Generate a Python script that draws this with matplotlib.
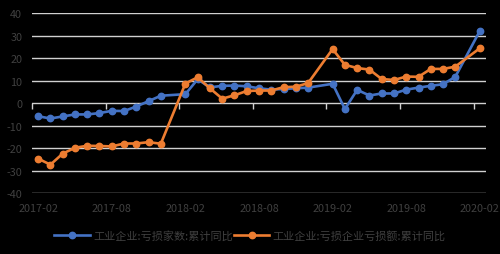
import matplotlib
matplotlib.use("Agg")
import matplotlib.pyplot as plt
from matplotlib.lines import Line2D

plt.rcParams['font.family'] = ['Noto Sans CJK SC', 'DejaVu Sans']

# month index relative to 2017-02 (January values missing)
months = [0, 1, 2, 3, 4, 5, 6, 7, 8, 9, 10,
          12, 13, 14, 15, 16, 17, 18, 19, 20, 21, 22,
          24, 25, 26, 27, 28, 29, 30, 31, 32, 33, 34,
          36]
loss_count = [-5.8, -6.8, -5.9, -5.0, -5.0, -4.4, -3.4, -3.5, -1.5, 0.9, 3.3,
              4.0, 10.6, 7.0, 7.7, 7.8, 7.5, 6.6, 6.0, 6.3, 6.6, 6.9,
              8.6, -2.6, 5.9, 3.4, 4.3, 4.3, 6.0, 6.9, 7.7, 8.4, 11.7,
              32.1]
loss_amount = [-24.6, -27.3, -22.4, -19.8, -18.9, -19.0, -19.2, -17.9, -17.9, -17.3, -18.0,
               8.7, 11.5, 6.6, 2.0, 3.5, 5.4, 5.6, 5.6, 7.1, 7.3, 8.9,
               24.0, 17.0, 15.6, 14.9, 10.7, 10.3, 11.8, 11.7, 15.2, 15.2, 16.2,
               24.4]
tick_pos = [0, 6, 12, 18, 24, 30, 36]
tick_labels = ['2017-02', '2017-08', '2018-02', '2018-08', '2019-02', '2019-08', '2020-02']
yticks = [-40, -30, -20, -10, 0, 10, 20, 30, 40]
series_names = ['工业企业:亏损家数:累计同比', '工业企业:亏损企业亏损额:累计同比']

text_color = '#404040'
grid_color = '#d0d0d0'
blue = '#4472C4'
orange = '#ED7D31'

fig = plt.figure(figsize=(5, 2.55), dpi=100, facecolor='black')
ax = fig.add_axes([0.064, 0.238, 0.908, 0.707], facecolor='black')

ax.set_xlim(-0.5, 36.5)
ax.set_ylim(-40, 40)
ax.set_yticks(yticks)
ax.set_yticklabels([str(v) for v in yticks])
for y in yticks:
    ax.axhline(y, color=grid_color, lw=1.0, zorder=1)

ax.plot(months, loss_count, color=blue, lw=1.9, marker='o', ms=4.6, zorder=3)
ax.plot(months, loss_amount, color=orange, lw=1.9, marker='o', ms=4.6, zorder=4)

for s in ax.spines.values():
    s.set_visible(False)

# tick marks at y=0 between categories
ax.spines['bottom'].set_position(('data', 0))
ax.set_xticks([p - 0.5 for p in tick_pos])
ax.set_xticklabels([''] * len(tick_pos))
ax.tick_params(axis='x', length=4, width=1, color=grid_color, direction='out')
ax.tick_params(axis='y', length=0, labelsize=7.8, labelcolor=text_color, pad=7)

sec = ax.secondary_xaxis(0.0)
sec.set_xticks(tick_pos)
sec.set_xticklabels(tick_labels)
sec.tick_params(length=0, labelsize=7.8, labelcolor=text_color, pad=7)
for s in sec.spines.values():
    s.set_visible(False)

handles = [Line2D([], [], color=blue, lw=1.9, marker='o', ms=4.6),
           Line2D([], [], color=orange, lw=1.9, marker='o', ms=4.6)]
fig.legend(handles, series_names, loc='center', bbox_to_anchor=(0.5, 0.072),
           ncol=2, frameon=False, fontsize=8.0, labelcolor=text_color,
           handlelength=3.2, handletextpad=0.3, columnspacing=0.1)

fig.savefig('out.png', dpi=100, facecolor='black')
